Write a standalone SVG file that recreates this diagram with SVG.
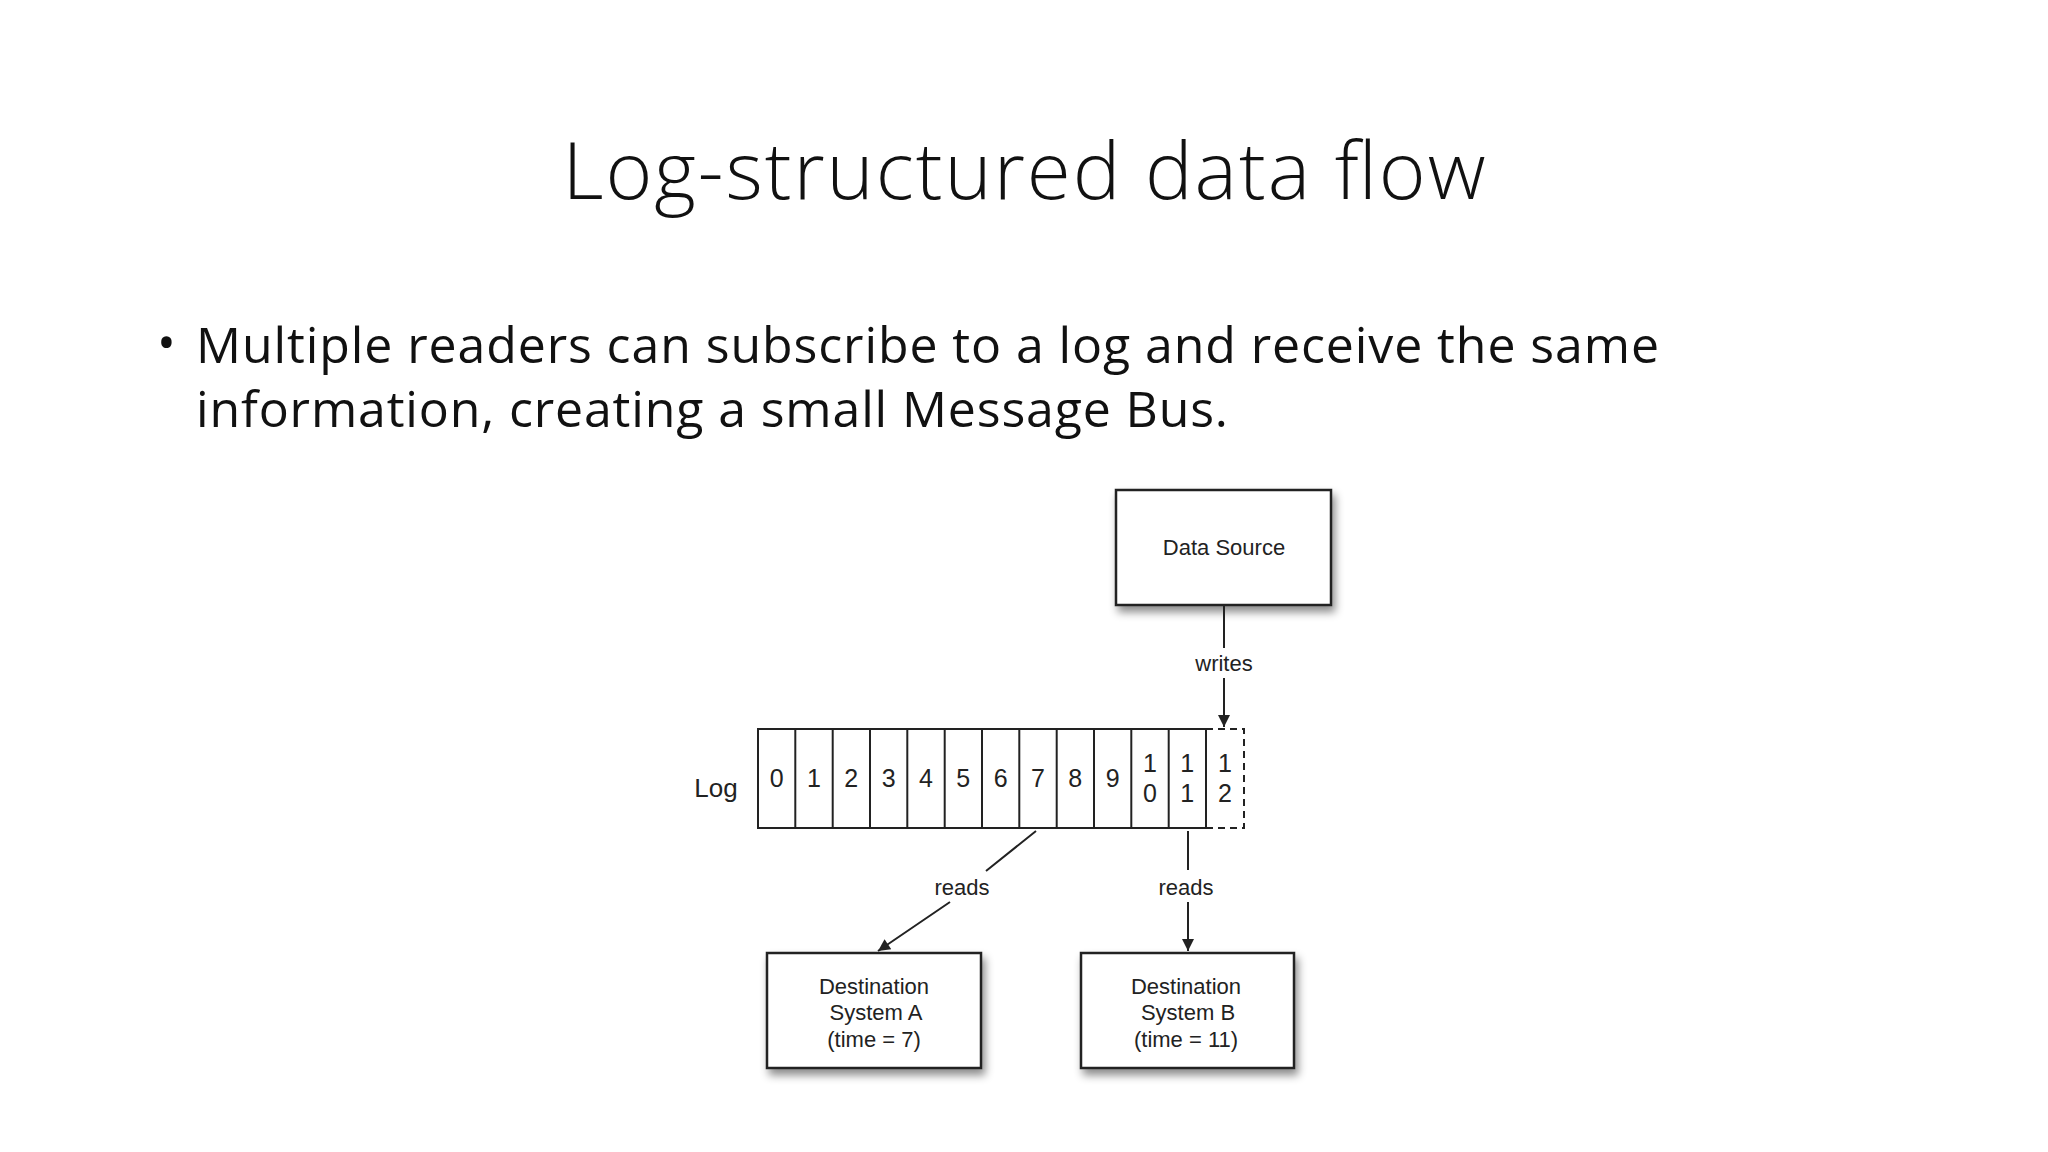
<svg xmlns="http://www.w3.org/2000/svg" width="2048" height="1152" viewBox="0 0 2048 1152">
<style>
.t{font-family:"Liberation Sans",Arial,sans-serif;fill:#222;text-anchor:middle}
.d{font-size:25px}
.l{font-size:22px}
.b{fill:#fff;stroke:#222;stroke-width:2.5}
.c{stroke:#222;stroke-width:2;fill:none}
</style>
<defs>
<filter id="sh" x="-10%" y="-10%" width="130%" height="140%"><feDropShadow dx="3" dy="6" stdDeviation="4" flood-opacity="0.45"/></filter>
<marker id="ah" viewBox="0 0 10 10" refX="10" refY="5" markerWidth="14" markerHeight="12" markerUnits="userSpaceOnUse" orient="auto"><path d="M0,0L10,5L0,10z" fill="#222"/></marker>
</defs>
<rect width="2048" height="1152" fill="#fff"/>
<text x="1024" y="199" font-family="'Open Sans',sans-serif" font-weight="300" font-size="80" fill="#111" text-anchor="middle" textLength="923">Log-structured data flow</text>
<g font-family="'Open Sans','Liberation Sans',sans-serif" font-size="50" fill="#111">
<text x="157" y="360">•</text>
<text x="196" y="363" textLength="1463">Multiple readers can subscribe to a log and receive the same</text>
<text x="196" y="427" textLength="1032">information, creating a small Message Bus.</text>
</g>
<g id="source"><rect class="b" x="1116" y="490" width="215" height="115" filter="url(#sh)"/><text class="t l" x="1224" y="555">Data Source</text></g>
<g id="log">
<text class="t" x="716" y="797" font-size="26">Log</text>
<rect x="758" y="729" width="448" height="99" fill="#fff" stroke="#222" stroke-width="2"/>
<g stroke="#222" stroke-width="2">
<line x1="795.3" y1="729" x2="795.3" y2="828"/><line x1="832.7" y1="729" x2="832.7" y2="828"/><line x1="870" y1="729" x2="870" y2="828"/><line x1="907.3" y1="729" x2="907.3" y2="828"/><line x1="944.7" y1="729" x2="944.7" y2="828"/><line x1="982" y1="729" x2="982" y2="828"/><line x1="1019.3" y1="729" x2="1019.3" y2="828"/><line x1="1056.7" y1="729" x2="1056.7" y2="828"/><line x1="1094" y1="729" x2="1094" y2="828"/><line x1="1131.3" y1="729" x2="1131.3" y2="828"/><line x1="1168.7" y1="729" x2="1168.7" y2="828"/>
</g>
<path d="M1206,729H1244V828H1206" fill="none" stroke="#222" stroke-width="2" stroke-dasharray="7,5"/>
<g class="t d">
<text x="776.7" y="787">0</text><text x="814" y="787">1</text><text x="851.3" y="787">2</text><text x="888.7" y="787">3</text><text x="926" y="787">4</text><text x="963.3" y="787">5</text><text x="1000.7" y="787">6</text><text x="1038" y="787">7</text><text x="1075.3" y="787">8</text><text x="1112.7" y="787">9</text>
<text x="1150" y="772">1</text><text x="1150" y="802">0</text><text x="1187.3" y="772">1</text><text x="1187.3" y="802">1</text><text x="1225" y="772">1</text><text x="1225" y="802">2</text>
</g>
</g>
<g id="destA"><rect class="b" x="767" y="953" width="214" height="115" filter="url(#sh)"/><g class="t l"><text x="874" y="994">Destination</text><text x="876" y="1020">System A</text><text x="874" y="1047">(time = 7)</text></g></g>
<g id="destB"><rect class="b" x="1081" y="953" width="213" height="115" filter="url(#sh)"/><g class="t l"><text x="1186" y="994">Destination</text><text x="1188" y="1020">System B</text><text x="1186" y="1047">(time = 11)</text></g></g>
<g id="connectors">
<path class="c" d="M1224,605V648M1224,678V727" marker-end="url(#ah)"/>
<text class="t l" x="1224" y="671">writes</text>
<path class="c" d="M1036,831L986,871M950,902L878,951" marker-end="url(#ah)"/>
<text class="t l" x="962" y="895">reads</text>
<path class="c" d="M1188,831V870M1188,902V951" marker-end="url(#ah)"/>
<text class="t l" x="1186" y="895">reads</text>
</g>
</svg>
